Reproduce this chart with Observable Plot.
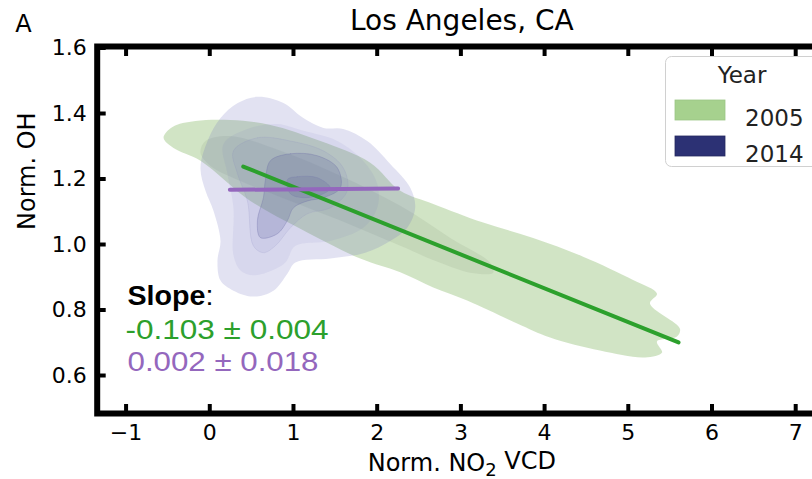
<!DOCTYPE html>
<html><head><meta charset="utf-8">
<script src="https://cdn.jsdelivr.net/npm/d3@7"></script>
<script src="https://cdn.jsdelivr.net/npm/@observablehq/plot@0.6"></script>
<style>
html,body{margin:0;padding:0;background:#fff;overflow:hidden;}
#chart{position:relative;width:812px;height:479px;overflow:hidden;}
#chart svg{max-width:none !important;}
</style></head><body><div id="chart"></div>
<script>
const years = ["2005", "2014"];
const legendColors = ["#a6d18e", "#2c3174"];
const xTicks = [-1, 0, 1, 2, 3, 4, 5, 6, 7];
const yTicks = [0.6, 0.8, 1.0, 1.2, 1.4, 1.6];
const titleText = "Los Angeles, CA";
const panelLetter = "A";
const xLabel = "Norm. NO2 VCD";
const yLabel = "Norm. OH";
const slopeTitle = "Slope:";
const slopeLabels = ["-0.103 ± 0.004", "0.002 ± 0.018"];

// 2005 density contour levels (Norm. NO2 VCD, Norm. OH)
const green2005Outer = [[-0.552,1.326],[-0.445,1.359],[-0.171,1.377],[0.247,1.380],[0.724,1.365],[1.321,1.316],[1.917,1.250],[2.276,1.164],[2.670,1.124],[3.266,1.067],[3.863,1.020],[4.460,0.963],[5.057,0.892],[5.343,0.850],[5.259,0.820],[5.617,0.743],[5.581,0.719],[5.343,0.704],[5.403,0.670],[5.200,0.655],[4.662,0.676],[4.066,0.716],[3.672,0.759],[3.075,0.829],[2.670,0.869],[2.276,0.915],[1.798,0.957],[1.082,1.048],[0.485,1.133],[-0.111,1.256],[-0.433,1.295]];
const green2005Inner = [[-0.051,1.316],[0.247,1.331],[0.844,1.286],[1.560,1.210],[2.276,1.118],[2.873,1.020],[3.350,0.944],[3.386,0.914],[3.111,0.914],[2.753,0.944],[2.276,0.996],[1.560,1.073],[0.963,1.133],[0.366,1.194],[0.008,1.240],[-0.111,1.280]];

// 2014 density contour levels
const purple2014L1 = [[0.572,1.451],[0.334,1.432],[0.128,1.386],[-0.027,1.316],[-0.111,1.234],[-0.051,1.164],[0.044,1.103],[0.128,1.011],[0.092,0.951],[0.128,0.890],[0.283,0.859],[0.521,0.841],[0.760,0.859],[0.927,0.911],[1.023,0.945],[1.440,0.957],[1.858,0.975],[2.156,1.011],[2.359,1.051],[2.454,1.112],[2.395,1.173],[2.156,1.246],[1.881,1.316],[1.595,1.353],[1.357,1.356],[1.118,1.386],[0.880,1.432]];
const purple2014L2 = [[0.163,1.307],[0.450,1.353],[0.808,1.368],[1.119,1.347],[1.524,1.316],[1.834,1.255],[2.001,1.185],[2.001,1.112],[1.834,1.051],[1.440,1.011],[1.023,0.996],[0.903,0.945],[0.688,0.915],[0.521,0.906],[0.366,0.921],[0.283,0.967],[0.283,1.112],[0.211,1.216]];
const purple2014L3 = [[0.283,1.286],[0.570,1.326],[0.963,1.316],[1.357,1.286],[1.595,1.234],[1.643,1.164],[1.440,1.112],[1.166,1.094],[0.963,1.051],[0.784,0.996],[0.641,0.975],[0.521,0.996],[0.450,1.133],[0.331,1.216]];
const purple2014L4 = [[0.725,1.256],[0.963,1.277],[1.285,1.271],[1.524,1.234],[1.560,1.173],[1.357,1.143],[1.166,1.133],[0.999,1.112],[0.927,1.073],[0.808,1.033],[0.605,1.021],[0.569,1.073],[0.641,1.143],[0.665,1.198]];
const purple2014L5 = [[0.927,1.198],[1.046,1.207],[1.285,1.204],[1.440,1.173],[1.357,1.155],[1.118,1.143],[0.963,1.155]];

// regression lines (endpoints)
const fit2005 = [[0.40,1.238],[5.60,0.701]];
const fit2014 = [[0.24,1.167],[2.25,1.171]];

const px = d => d[0], py = d => d[1];
const poly = (data, fill, fillOpacity, extra = {}) =>
  Plot.line(data, {x: px, y: py, fill, fillOpacity, stroke: "none", curve: "catmull-rom-closed", ...extra});

const fmtX = d => d < 0 ? "\u2212" + Math.abs(d) : String(d);

const chart = Plot.plot({
  width: 830,
  height: 479,
  marginLeft: 96.7,
  marginRight: 4,
  marginTop: 46,
  marginBottom: 66,
  style: {fontFamily: "DejaVu Sans", background: "#fff", color: "#000", maxWidth: "none"},
  x: {domain: [-1.345, 7.368]},
  y: {domain: [0.484, 1.6046]},
  marks: [
    poly(green2005Outer, "#a3c98c", 0.5),
    poly(green2005Inner, "#8fa083", 0.18),
    poly(purple2014L1, "#6e70c0", 0.2),
    poly(purple2014L2, "#6e70c0", 0.09),
    poly(purple2014L3, "#6e70c0", 0.09, {stroke: "#8a8cc0", strokeOpacity: 0.25, strokeWidth: 0.7}),
    poly(purple2014L4, "#4a4f8f", 0.18, {stroke: "#6a6ca8", strokeOpacity: 0.4, strokeWidth: 0.8}),
    poly(purple2014L5, "#4a4f8f", 0.14, {stroke: "#6a6ca8", strokeOpacity: 0.3, strokeWidth: 0.7}),
    Plot.line(fit2005, {x: px, y: py, stroke: "#2ca02c", strokeWidth: 4}),
    Plot.line(fit2014, {x: px, y: py, stroke: "#9467bd", strokeWidth: 4}),
    Plot.frame({stroke: "#000", strokeWidth: 6}),
    Plot.axisX({anchor: "bottom", ticks: xTicks, tickSize: -9, tickPadding: 19.5, strokeWidth: 4, fontSize: 22, tickFormat: fmtX, label: null}),
    Plot.axisX({anchor: "top", ticks: xTicks, tickSize: -9, strokeWidth: 4, tickFormat: () => "", label: null}),
    Plot.axisY({anchor: "left", ticks: yTicks, tickSize: -9, tickPadding: 19.5, strokeWidth: 4, fontSize: 22, tickFormat: d3.format(".1f"), label: null}),
    Plot.text([titleText], {frameAnchor: "top", dy: -17, lineAnchor: "bottom", fontSize: 28, text: d => d}),
    Plot.text([panelLetter], {frameAnchor: "top-left", dx: -82, dy: -15, lineAnchor: "bottom", textAnchor: "start", fontSize: 24, text: d => d}),
    Plot.text([yLabel], {frameAnchor: "left", dx: -61.7, rotate: -90, lineAnchor: "bottom", fontSize: 24, text: d => d}),
    Plot.text([xLabel], {frameAnchor: "bottom", dy: 57, lineAnchor: "bottom", fontSize: 24, text: d => d}),
    Plot.text([slopeTitle], {frameAnchor: "top-left", dx: 30.3, dy: 258, lineAnchor: "bottom", textAnchor: "start", fontSize: 27.5, fontFamily: "Liberation Sans", text: d => d}),
    Plot.text([slopeLabels[0]], {frameAnchor: "top-left", dx: 28.3, dy: 292, lineAnchor: "bottom", textAnchor: "start", fontSize: 27, fontFamily: "Liberation Sans", fill: "#2ca02c", text: d => d}),
    Plot.text([slopeLabels[1]], {frameAnchor: "top-left", dx: 30.3, dy: 324, lineAnchor: "bottom", textAnchor: "start", fontSize: 27, fontFamily: "Liberation Sans", fill: "#9467bd", text: d => d})
  ]
});
chart.style.maxWidth = "none";
document.getElementById("chart").appendChild(chart);

const svg = d3.select(chart);
// refine texts
svg.selectAll("text").each(function () {
  const t = d3.select(this);
  const s = this.textContent;
  if (s === xLabel) {
    t.text(null);
    t.append("tspan").text("Norm. NO");
    t.append("tspan").attr("font-size", "75%").attr("dy", "0.3em").text("2");
    t.append("tspan").attr("dy", "-0.3em").text(" VCD");
  } else if (s === slopeTitle) {
    t.text(null);
    t.append("tspan").attr("font-weight", "bold").text("Slope");
    t.append("tspan").text(":");
    t.attr("textLength", 86).attr("lengthAdjust", "spacingAndGlyphs");
  } else if (s === slopeLabels[0]) {
    t.attr("textLength", 203).attr("lengthAdjust", "spacingAndGlyphs");
  } else if (s === slopeLabels[1]) {
    t.attr("textLength", 191).attr("lengthAdjust", "spacingAndGlyphs");
  }
});

// legend
const lg = svg.append("g").attr("font-family", "DejaVu Sans").attr("font-size", 23).attr("text-anchor", "start");
lg.append("rect").attr("x", 665.5).attr("y", 56.5).attr("width", 170).attr("height", 110)
  .attr("rx", 6).attr("fill", "#fff").attr("fill-opacity", 0.85).attr("stroke", "#d0d0d0");
lg.append("text").attr("x", 742).attr("y", 83).attr("text-anchor", "middle").attr("fill", "#222").text("Year");
years.forEach((yr, i) => {
  const y0 = 100 + i * 36;
  lg.append("rect").attr("x", 675).attr("y", y0).attr("width", 50).attr("height", 20)
    .attr("fill", legendColors[i]).attr("stroke", i ? "#25285f" : "#9cc585").attr("stroke-width", 0.8);
  lg.append("text").attr("x", 745).attr("y", y0 + 25.5).attr("text-anchor", "start").attr("fill", "#222").text(yr);
});
</script></body></html>
